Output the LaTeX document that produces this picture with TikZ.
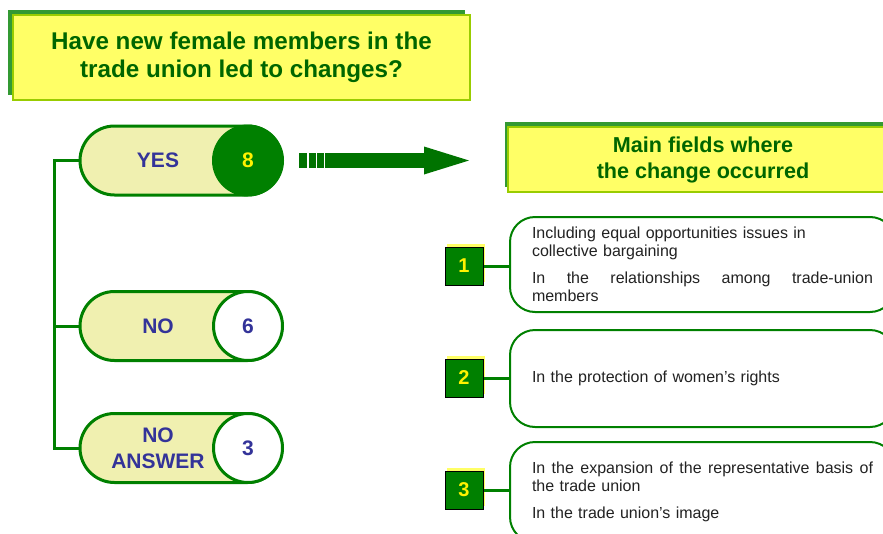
\documentclass[tikz,border=0pt]{standalone}
\usepackage{fontspec}
\setmainfont{Liberation Sans}
\usetikzlibrary{shapes.misc,arrows.meta,shadows}
\definecolor{leaf}{RGB}{0,128,0}
\definecolor{deepgreen}{RGB}{0,102,0}
\definecolor{shadowgreen}{RGB}{51,153,51}
\definecolor{lemon}{RGB}{255,255,102}
\definecolor{lime}{RGB}{153,204,0}
\definecolor{cream}{RGB}{240,240,176}
\definecolor{indigo}{RGB}{51,51,153}
\definecolor{ink}{RGB}{34,34,34}
\tikzset{every node/.style={align=center}}
\tikzstyle{headbox} = [draw=lime, line width=2, fill=lemon, text=deepgreen, inner sep=0]
\tikzstyle{pill} = [rounded rectangle, draw=leaf, line width=3, fill=cream, minimum width=202, minimum height=69, inner sep=0]
\tikzstyle{count} = [circle, draw=leaf, line width=3, fill=white, minimum size=69, inner sep=0, text=indigo, font=\bfseries\fontsize{21}{24}\selectfont]
\tikzstyle{answer} = [text=indigo, font=\bfseries\fontsize{21}{26}\selectfont]
\tikzstyle{link} = [draw=leaf, line width=3]
\tikzstyle{tag} = [draw=black, line width=1, fill=leaf, minimum size=38, inner sep=0, text=yellow, font=\bfseries\fontsize{20}{24}\selectfont, general shadow={fill=lemon, shadow xshift=2pt, shadow yshift=3pt}]
\tikzstyle{field} = [draw=leaf, line width=2, fill=white, rounded corners=25, minimum width=385, text width=341, inner xsep=22, inner ysep=0, align=left, text=ink, font=\fontsize{16}{18}\selectfont]

\begin{document}
\begin{tikzpicture}[x=1pt, y=-1pt]
		\useasboundingbox (0,0) rectangle (883,533);
		\clip (0,0) rectangle (883,533);
		
		% Question
		\node[headbox, minimum width=457, minimum height=85, font=\bfseries\fontsize{24.2}{28}\selectfont,
			general shadow={fill=shadowgreen, shadow xshift=-5pt, shadow yshift=5pt}] (question) at (241.5,57)
			{Have new female members in the\\trade union led to changes?};
		
		% Answers
		\node[pill] (yes) at (181,160.5) {};
		\node[answer] (yes text) at (158,160.5) {YES};
		\node[count, fill=leaf, text=yellow] (count8) at (248,160.5) {8};
		
		\node[pill] (no) at (181,326) {};
		\node[answer] (no text) at (158,326) {NO};
		\node[count] (count6) at (248,326) {6};
		
		\node[pill] (blank) at (181,448) {};
		\node[answer] (blank text) at (158,448) {NO\\ANSWER};
		\node[count] (count3) at (248,448) {3};
		
		%% Tree
		\coordinate (trunk) at (54,160.5);
		\draw[link] (yes.west) -- (trunk) |- (blank.west);
		\draw[link] (no.west) -- (no.west -| trunk);
		
		% Fields
		\node[headbox, minimum width=390, minimum height=65, font=\bfseries\fontsize{21.6}{26}\selectfont,
			general shadow={fill=shadowgreen, shadow xshift=-3pt, shadow yshift=5pt}] (fields) at (703,159.5)
			{Main fields where\\the change occurred};
		
		%% Arrow
		\draw[draw=leaf!90!black, line width=15, dash pattern=on 8pt off 2pt on 7pt off 1pt on 7pt off 1pt on 400pt off 0pt,
			-{Triangle[length=45pt, width=28pt, line width=0pt]}]
			([xshift=15]count8.east) -- ([xshift=-38]fields.west |- count8);
		
		%% Boxes
		\node[field, minimum height=95] (f1) at (702.5,264.5)
			{Including equal opportunities issues in\\collective bargaining\\[9pt]
			\makebox[341pt]{In\hfill the\hfill relationships\hfill among\hfill trade-union}\\members};
		\node[field, minimum height=97] (f2) at (702.5,378.5) {In the protection of women’s rights};
		\node[field, minimum height=100] (f3) at (702.5,492)
			{\makebox[341pt]{In\hfill the\hfill expansion\hfill of\hfill the\hfill representative\hfill basis\hfill of}\\the trade union\\[9pt]
			In the trade union’s image};
		
		%% Tags
		\node[tag] (t1) at (464,266) {1};
		\node[tag] (t2) at (464,378) {2};
		\node[tag] (t3) at (464,490) {3};
		\foreach \i in {1,2,3}
			\draw[link] (t\i.east) -- (t\i.east -| f\i.west);
	\end{tikzpicture}
\end{document}
